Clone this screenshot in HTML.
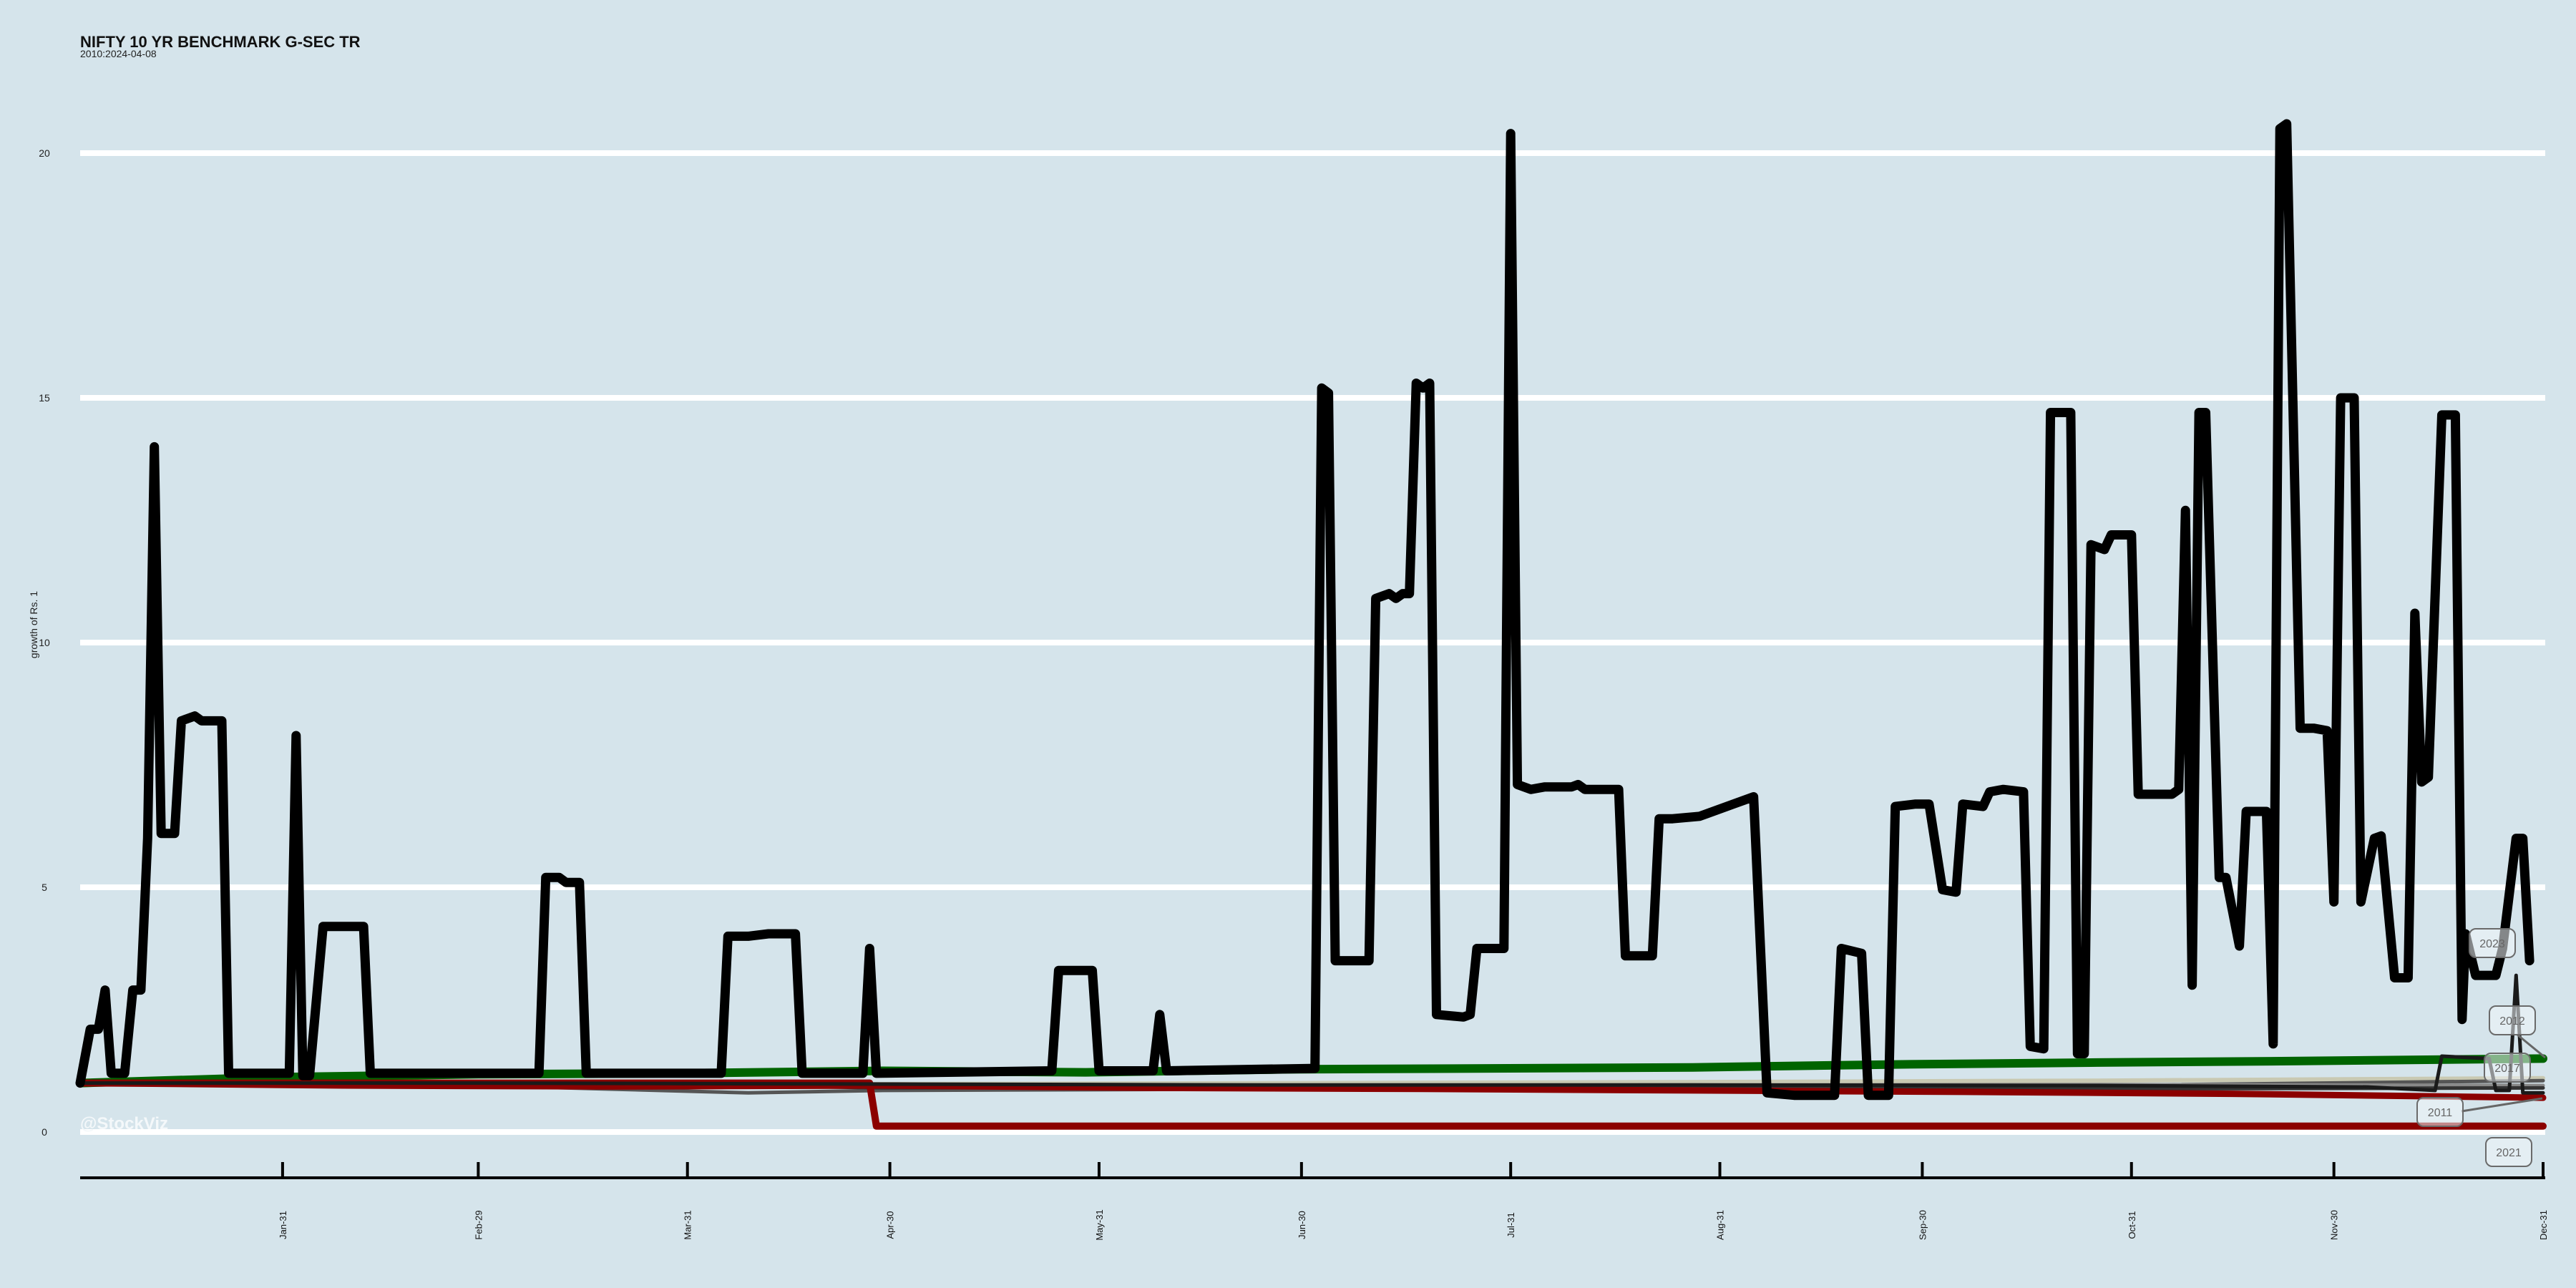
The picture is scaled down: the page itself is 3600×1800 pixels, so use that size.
<!DOCTYPE html>
<html><head><meta charset="utf-8"><style>
html,body{margin:0;padding:0;background:#d5e4eb;}
svg{display:block;font-family:"Liberation Sans",sans-serif;}
</style></head><body>
<svg id="chart" width="3600" height="1800" viewBox="0 0 3600 1800" xmlns="http://www.w3.org/2000/svg">
<rect width="3600" height="1800" fill="#d5e4eb"/>
<text x="112" y="66" font-size="22" font-weight="bold" fill="#111">NIFTY 10 YR BENCHMARK G-SEC TR</text>
<text x="112" y="80" font-size="14" fill="#222">2010:2024-04-08</text>
<text transform="translate(52,873) rotate(-90)" text-anchor="middle" font-size="14" fill="#222">growth of Rs. 1</text>
<g id="grid"></g>
<g id="yticks"></g>
<text x="112" y="1578" font-size="24" font-weight="bold" fill="#f4f8fa">@StockViz</text>
<g id="series"></g>
<g id="xaxis"></g>
<g id="labels"></g>
</svg>
<script>
const yTicks=[0,5,10,15,20];
const xTickDays=[31,60,91,121,152,182,213,244,274,305,335,366];
const xTickLabels=["Jan-31","Feb-29","Mar-31","Apr-30","May-31","Jun-30","Jul-31","Aug-31","Sep-30","Oct-31","Nov-30","Dec-31"];

const days2023=[1,2.5,3.7,4.7,5.6,7.6,8.8,10,11,12,13,15,16,18,19,20,22,23,32,33,34,35,37,39,43,44,69,70,72,73,75,76,96,97,100,103,107,108,117,118,119,145,146,151,152,160,161,162,184,185,186,187,192,193,195,196,197,198,199,200,201,202,206,207,208,212,213,214,216,218,222,223,224,229,230,234,235,237,241,246,249,251,255,261,262,265,266,269,270,273,275,277,279,280,283,284,286,289,290,292,293,296,297,298,299,301,302,305,306,311,312,313,314,315,316,318,319,321,322,325,326,327,328,330,332,334,335,336,338,339,341,342,344,346,347,348,349,351,353,354,354.5,356,359,360,362,363,364];
const vals2023=[1.0,2.1,2.1,2.9,1.2,1.2,2.9,2.9,6.0,14.0,6.1,6.1,8.4,8.5,8.4,8.4,8.4,1.2,1.2,8.1,1.15,1.15,4.2,4.2,4.2,1.2,1.2,5.2,5.2,5.1,5.1,1.2,1.2,4.0,4.0,4.05,4.05,1.2,1.2,3.75,1.2,1.25,3.3,3.3,1.25,1.25,2.4,1.25,1.3,15.2,15.1,3.5,3.5,10.9,11.0,10.9,11.0,11.0,15.3,15.2,15.3,2.4,2.35,2.4,3.75,3.75,20.4,7.1,7.0,7.05,7.05,7.1,7.0,7.0,3.6,3.6,6.4,6.4,6.45,6.7,6.85,0.8,0.75,0.75,3.75,3.65,0.75,0.75,6.65,6.7,6.7,4.95,4.9,6.7,6.65,6.95,7.0,6.95,1.75,1.7,14.7,14.7,1.6,1.6,12.0,11.9,12.2,12.2,6.9,6.9,7.0,12.7,3.0,14.7,14.7,5.2,5.2,3.8,6.55,6.55,1.8,20.5,20.6,8.25,8.25,8.2,4.7,15.0,15.0,4.7,6.0,6.05,3.15,3.15,10.6,7.15,7.25,14.65,14.65,2.3,4.05,3.2,3.2,3.75,6.0,6.0,3.5];

const days2017=[1,30,60,90,120,150,180,210,240,270,300,330,366];
const vals2017=[1.0,1.12,1.18,1.2,1.25,1.22,1.28,1.3,1.32,1.38,1.42,1.45,1.5];
const days2021=[1,60,117,118,119,200,366];
const vals2021=[1.0,1.0,1.0,1.0,0.12,0.12,0.12];
const days2011=[1,40,80,120,160,200,240,280,320,366];
const vals2011=[1.0,0.95,0.93,0.95,0.9,0.88,0.85,0.82,0.78,0.7];
const days2012=[1,60,120,180,240,300,340,350,351,358,359,361,362,363,366];
const vals2012=[1.0,1.0,0.98,0.96,0.96,0.95,0.92,0.85,1.55,1.5,0.85,0.85,3.2,0.8,0.8];
const daysGrey=[1,60,100,120,180,240,300,366];
const valsGreyA=[1.0,0.95,0.8,0.85,0.88,0.9,0.95,1.05];
const valsGreyB=[1.0,0.98,0.92,0.93,0.95,0.96,0.97,0.95];
const valsGreyC=[1.0,1.02,0.97,0.98,1.0,1.02,1.05,1.1];
const valsGreyD=[1.0,0.97,0.95,0.9,0.92,0.9,0.88,0.9];

const X0=112,X1=3554,Y0=1582,YPER=68.4;
const xs=d=>X0+(d-1)*(X1-X0)/365;
const ys=v=>Y0-v*YPER;
const NS="http://www.w3.org/2000/svg";
function mk(tag,attrs,parent){const e=document.createElementNS(NS,tag);for(const k in attrs)e.setAttribute(k,attrs[k]);parent.appendChild(e);return e;}

const grid=document.getElementById('grid'),yt=document.getElementById('yticks');
yTicks.forEach(v=>{
  const l=mk('line',{x1:X0,x2:3557,y1:ys(v),y2:ys(v),stroke:'#fff','stroke-width':8},grid);
  
  
  const t=mk('text',{x:62,y:ys(v)+5,'font-size':14,fill:'#222','text-anchor':'middle'},yt);
  t.textContent=v;
  
  
});

const ser=document.getElementById('series');
function line(days,vals,color,w,name){
  const d=days.map((dd,i)=>(i?'L':'M')+xs(dd).toFixed(1)+','+ys(vals[i]).toFixed(1)).join(' ');
  const p=mk('path',{d:d,fill:'none',stroke:color,'stroke-width':w,'stroke-linejoin':'round','stroke-linecap':'round'},ser);
  
  
}
line(daysGrey,valsGreyC,'#c9c9b2',6,'series-grey-c');
line(daysGrey,valsGreyA,'#555',5,'series-grey-a');
line(daysGrey,valsGreyB,'#888',5,'series-grey-b');
line(daysGrey,valsGreyD,'#333',5,'series-grey-d');
line(days2017,vals2017,'#006400',12,'series-2017');
line(days2011,vals2011,'#8b0000',9,'series-2011');
line(days2021,vals2021,'#8b0000',10,'series-2021');
line(days2012,vals2012,'#1a1a1a',5,'series-2012');
line(days2023,vals2023,'#000',13,'series-2023');

const xa=document.getElementById('xaxis');
const ax=mk('line',{x1:X0,x2:3557,y1:1646,y2:1646,stroke:'#000','stroke-width':4},xa);


xTickDays.forEach((dd,i)=>{
  const x=xs(dd);
  const tk=mk('line',{x1:x,x2:x,y1:1624,y2:1646,stroke:'#000','stroke-width':4},xa);
  
  
  const t=mk('text',{transform:`translate(${x+5},1712) rotate(-90)`,'font-size':13,fill:'#111','text-anchor':'middle'},xa);
  t.textContent=xTickLabels[i];
  
  
});

const labNames=["2023","2012","2017","2011","2021"];
const labCx=[3483,3511,3504,3410,3506];
const labCy=[1318,1426,1492,1554,1610];
const lg=document.getElementById('labels');
mk('line',{x1:3518,y1:1446,x2:3557,y2:1478,stroke:'#666','stroke-width':3},lg);
mk('line',{x1:3440,y1:1553,x2:3553,y2:1535,stroke:'#666','stroke-width':3},lg);
labNames.forEach((n,i)=>{
  const r=mk('rect',{x:labCx[i]-32,y:labCy[i]-20,width:64,height:40,rx:9,fill:'rgba(240,246,250,0.55)',stroke:'#6a6a6a','stroke-width':2},lg);
  
  
  const t=mk('text',{x:labCx[i],y:labCy[i]+6,'font-size':16,fill:'#666','text-anchor':'middle'},lg);
  t.textContent=n;
  
  
});
</script>
</body></html>
